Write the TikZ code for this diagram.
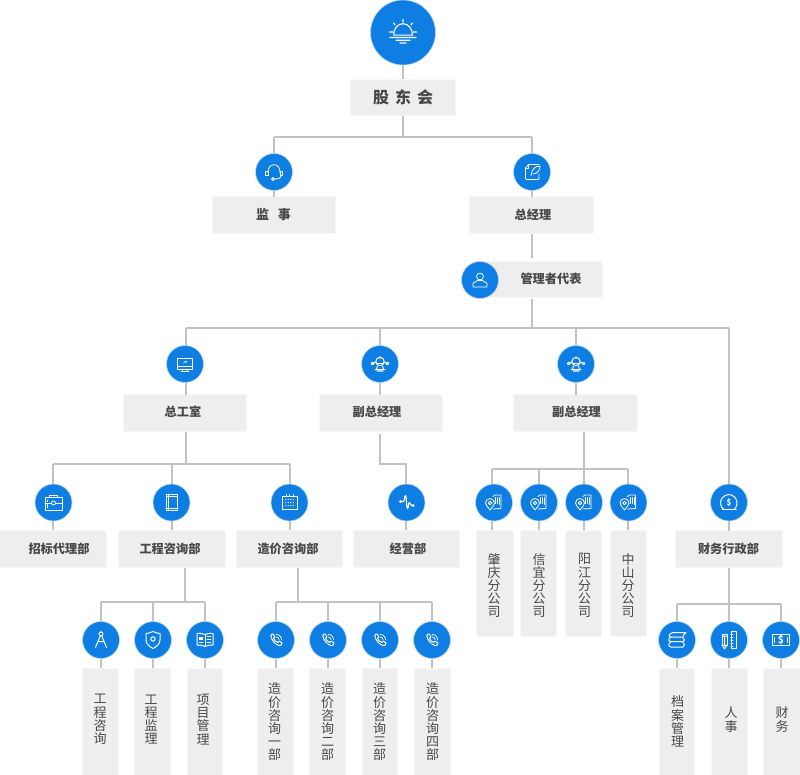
\documentclass[tikz,border=0pt]{standalone}
\usepackage{fontspec}
\setmainfont{Noto Sans CJK SC}
\usetikzlibrary{calc}
\definecolor{blu}{HTML}{0F7EE3}
\definecolor{halo}{HTML}{B9D9F5}
\definecolor{wire}{HTML}{C2C2C2}
\definecolor{boxf}{HTML}{EEEEEE}
\definecolor{boxe}{HTML}{F8F8F8}
\definecolor{ink}{HTML}{484848}
\tikzset{
  conn/.style={draw=wire,line width=1.9pt,line join=miter},
  circ/.style={circle,fill=blu,draw=halo,line width=.6pt,minimum size=37pt,inner sep=0pt},
  bigcirc/.style={circ,minimum size=65pt},
  boxn/.style={fill=boxf,draw=boxe,line width=1pt,inner sep=0pt},
  tb/.style={text=ink,inner sep=0pt,font=\fontsize{12.2}{14}\selectfont\bfseries},
  tv/.style={text=ink,inner sep=0pt,align=center,font=\fontsize{13}{13.2}\selectfont},
  ic/.style={draw=white,line width=.8pt,line cap=round,line join=round},
  pics/sun/.style={code={
    \draw[ic,line width=1.1pt] (-9.5,2.7) arc[start angle=180,end angle=360,x radius=9.5,y radius=11.5] -- cycle;
    \draw[ic,line width=1.1pt] (-13,5) -- (13,5) (-7,7.8) -- (7,7.8) (-3,10.5) -- (3,10.5)
      (0,-10.5) -- (0,-13) (8,-7.5) -- (9.5,-9.5) (-8,-7.5) -- (-9.5,-9.5) (10.5,-.5) -- (13.5,-.5) (-10.5,-.5) -- (-13.5,-.5);
  }},
  pics/headset/.style={code={
    \draw[ic] (-6,1) .. controls (-7,-10) and (7,-10) .. (6,1);
    \draw[ic] (-8.5,-1) rectangle (-6,3.5) (6,-1) rectangle (8.5,3.5);
    \draw[ic] (7,3.5) .. controls (7,6.5) and (4,7) .. (0,7);
    \draw[ic] (-1,7) circle (1.5);
  }},
  pics/docfeather/.style={code={
    \draw[ic] (-2,-7.5) -- (7,-7.5) (7,2) -- (7,6.5) arc[start angle=0,end angle=90,radius=1] -- (-5.5,7.5) arc[start angle=90,end angle=180,radius=1] -- (-6.5,-4) -- (-3.5,-7.5) -- (-2,-7.5);
    \draw[ic] (-1,3.5) .. controls (0,-3) and (3,-6) .. (8,-6) .. controls (8,-2) and (6,1.5) .. (1,2) ;
    \draw[ic] (-3.5,-7.5) -- (-3.5,-4) -- (-6.5,-4);
  }},
  pics/userb/.style={code={
    \draw[ic] (0,-3.5) circle (3.4);
    \draw[ic] (-7,7) -- (7,7) -- (7,4) .. controls (7,2) and (3,2) .. (2.5,0.5) -- (-2.5,0.5) .. controls (-3,2) and (-7,2) .. (-7,4) -- cycle;
  }},
  pics/monitor/.style={code={
    \draw[ic] (-7.5,-5.5) rectangle (7.5,5);
    \draw[ic] (-7.5,2.5) -- (7.5,2.5) (-2,5) -- (-2.5,7.5) (2,5) -- (2.5,7.5) (-4,7.5) -- (4,7.5);
    \draw[ic,line width=.6pt] (-1.5,-1) -- (.5,-3) (.5,-1) -- (2,-3);
  }},
  pics/robot/.style={code={
    \draw[ic,line width=1pt] (0,-2.5) circle (4.2);
    \draw[ic,line width=1pt] (-3.5,-1) -- (3.5,-1);
    \draw[ic,line width=1pt] (-2.5,2) -- (-3.5,5) (2.5,2) -- (3.5,5) (-5,5.5) -- (5,5.5) (-3,7) -- (3,7);
    \draw[ic,line width=1pt] (-4,-2) -- (-6.5,-.5) (4,-2) -- (6.5,-.5);
    \draw[ic,line width=1pt] (-7.5,-.5) circle (1.3) (7.5,-.5) circle (1.3);
    \fill[white] (0,-6.5) circle (1.2);
  }},
  pics/brief/.style={code={
    \draw[ic] (-8.5,-5) rectangle (8.5,7.5);
    \draw[ic] (-4,-5) -- (-4,-7.5) -- (4,-7.5) -- (4,-5);
    \draw[ic] (-8.5,0.5) -- (-2,0.5) (2,0.5) -- (8.5,0.5) (-6,-2.5) -- (-6,-.8) (-6,2) -- (-6,5.5);
    \draw[ic] (0,.5) circle (2);
  }},
  pics/phonerect/.style={code={
    \draw[ic] (-5.5,-8.5) rectangle (5.5,8);
    \draw[ic] (-3.5,-8.5) -- (-3.5,8) (-5.5,-6) -- (5.5,-6) (-5.5,5.5) -- (5.5,5.5);
  }},
  pics/calendar/.style={code={
    \draw[ic] (-7.5,-6.5) rectangle (7.5,7);
    \draw[ic] (-3.5,-8) -- (-3.5,-6) (0,-8) -- (0,-6) (3.5,-8) -- (3.5,-6);
    \foreach \u in {-4,-1.3,1.3,4}{\foreach \v in {-3,0,3}{\fill[white] (\u,\v) circle (.7);}}
  }},
  pics/pulse/.style={code={
    \draw[ic,line width=1.1pt] (-7,-1) -- (-3,-1) .. controls (-2,-1) and (-2,-7) .. (-1,-7) .. controls (0,-7) and (0,6) .. (1,6) .. controls (2,6) and (2,-1) .. (3,0) .. controls (4,1) and (4,3) .. (5,3) -- (7,3);
    \fill[white] (-6,-1) circle (1.5) (6.5,3) circle (1.5);
  }},
  pics/buildpin/.style={code={
    \draw[ic] (-1,-6) -- (1,-7.5) -- (7,-7.5) -- (7,6) -- (-1,6.5);
    \draw[ic] (1.5,-5) -- (1.5,1) (3.5,-5) -- (3.5,1) (5.5,-5) -- (5.5,2);
    \draw[ic,fill=blu] (-4,7.5) .. controls (-6,4.5) and (-8.5,3) .. (-8.5,0.5) arc[start angle=180,end angle=360,radius=4.5] .. controls (.5,3) and (-2,4.5) .. (-4,7.5) -- cycle;
    \draw[ic] (-4,.5) circle (1.8);
  }},
  pics/coin/.style={code={
    \draw[ic,line width=1pt] (-5.5,6.8) arc[start angle=130,end angle=410,radius=8.3];
    \draw[ic,line width=1pt] (-7,7) -- (7,7);
    \node[text=white,inner sep=0pt,font=\fontsize{8}{8}\selectfont\bfseries] (dollar) at (0,0.5) {\$};
  }},
  pics/compass/.style={code={
    \draw[ic,line width=1pt] (0,-6) circle (2);
    \draw[ic,line width=1pt] (-.8,-4) -- (-5.5,7.5) (.8,-4) -- (5.5,7.5) (-3,1.5) -- (3,1.5) (0,-8) -- (0,-9);
  }},
  pics/shield/.style={code={
    \draw[ic,line width=1pt] (0,-8.5) .. controls (3,-7) and (6,-6.5) .. (7,-6.5) -- (7,0) .. controls (7,4) and (3,7) .. (0,8.5) .. controls (-3,7) and (-7,4) .. (-7,0) -- (-7,-6.5) .. controls (-6,-6.5) and (-3,-7) .. (0,-8.5) -- cycle;
    \draw[ic,line width=1pt] (0,-1) circle (2.2);
  }},
  pics/bookb/.style={code={
    \draw[ic,line width=1pt] (0,-5.5) .. controls (-3,-7) and (-5,-6.5) .. (-8,-6.5) -- (-8,5) .. controls (-5,5) and (-3,5) .. (0,6.5) .. controls (3,5) and (5,5) .. (8,5) -- (8,-6.5) .. controls (5,-6.5) and (3,-7) .. (0,-5.5) -- cycle;
    \draw[ic,line width=1pt] (0,-5.5) -- (0,6.5);
    \fill[white] (-6,-3) rectangle (-2.5,0);
    \draw[ic] (-6,2.5) -- (-2,2.5) (2,-3.5) -- (6,-3.5) (2,-.5) -- (6,-.5) (2,2.5) -- (6,2.5);
  }},
  pics/handset/.style={code={
    \begin{scope}[scale=.8]
    \draw[ic,line width=1pt] (-6.5,-5) .. controls (-7,-7) and (-5,-7.5) .. (-3.5,-7.5) -- (-1.5,-4) -- (-3,-2) .. controls (-2,0) and (0,2.5) .. (2,3) -- (4,1.5) -- (7.5,3.5) .. controls (7.5,6) and (6,7.5) .. (4,7) .. controls (-1,5.5) and (-5,1) .. (-6.5,-5) -- cycle;
    \draw[ic,line width=.7pt] (0,-7) .. controls (4,-7) and (7,-4) .. (7,0) (0,-4) .. controls (2,-4) and (4,-2) .. (4,0);
    \end{scope}
  }},
  pics/stackb/.style={code={
    \draw[ic,line width=1pt] (-8,-4) .. controls (-8,-6) and (-6,-6.5) .. (-4,-7.5) -- (9,-7.5) .. controls (7,-6) and (6,-4) .. (6,-3) -- (-6,-3) .. controls (-8,-3) and (-8,-4) .. (-8,-4) -- cycle;
    \draw[ic,line width=1pt] (6,-2) .. controls (8,-1) and (8,1) .. (6,1.5) -- (-6,1.5) .. controls (-9,1.5) and (-9,-2) .. (-6,-2.5);
    \draw[ic,line width=1pt] (6,2.5) .. controls (8,3) and (8,6) .. (6,7) -- (-6,7) .. controls (-9,7) and (-9,3) .. (-6,2);
  }},
  pics/penruler/.style={code={
    \draw[ic,line width=1pt] (-7,-6) rectangle (-2,5) ;
    \draw[ic,line width=1pt] (-7,5) -- (-4.5,9) -- (-2,5) (-7,-4) -- (-2,-4) (-4.5,-4) -- (-4.5,5);
    \draw[ic,line width=1pt] (2,-9) rectangle (7,8);
    \draw[ic,line width=.8pt] (2,-6) -- (4,-6) (2,-3) -- (4,-3) (2,0) -- (4,0) (2,3) -- (4,3) (2,6) -- (4,6);
  }},
  pics/cash/.style={code={
    \draw[ic,line width=1pt] (-8.5,-5.5) rectangle (8.5,5.5);
    \draw[ic,line width=1pt] (-6.5,-2.5) -- (-6.5,2.5) (6.5,-2.5) -- (6.5,2.5);
    \node[text=white,inner sep=0pt,font=\fontsize{10}{10}\selectfont\bfseries] (dollarb) at (0,0) {\$};
  }},
}
\newcommand{\boxt}[5]{\node[boxn,minimum width=#4pt-#2pt+1pt,minimum height=#5pt-#3pt+1pt] (#1) at ({(#2+#4)/2},{(#3+#5)/2}) {};}
\newcommand{\circn}[4]{\node[circ] (#1) at (#2,#3) {}; \pic at (#1) {#4};}
\begin{document}
\begin{tikzpicture}[x=1pt,y=-1pt]
\useasboundingbox (0,0) rectangle (800,775);
\boxt{bGD}{351}{80}{455}{115}
\boxt{bJS}{213}{197}{335}{233}
\boxt{bZJ}{470}{197}{593}{233}
\boxt{bGL}{482}{262}{602}{297}
\boxt{bGS}{124}{395}{246}{431}
\boxt{bFA}{320}{395}{442}{431}
\boxt{bFB}{514}{395}{637}{431}
\boxt{bZB}{0}{531}{106}{567}
\boxt{bGC}{119}{531}{225}{567}
\boxt{bZX}{237}{531}{342}{567}
\boxt{bJY}{354}{531}{459}{567}
\boxt{bCW}{676}{531}{782}{567}
\boxt{bS1}{477}{531}{513}{636}
\boxt{bS2}{521}{531}{556}{636}
\boxt{bS3}{566}{531}{601}{636}
\boxt{bS4}{611}{531}{646}{636}
\boxt{bA1}{83}{669}{118}{775}
\boxt{bA2}{135}{669}{170}{775}
\boxt{bA3}{188}{669}{222}{775}
\boxt{bB1}{258}{669}{293}{775}
\boxt{bB2}{310}{669}{345}{775}
\boxt{bB3}{363}{669}{397}{775}
\boxt{bB4}{415}{669}{450}{775}
\boxt{bC1}{660}{669}{694}{775}
\boxt{bC2}{712}{669}{747}{775}
\boxt{bC3}{764}{669}{800}{775}
\coordinate (jTop) at (403,137);
\coordinate (jTopL) at (274,137);
\coordinate (jTopR) at (532,137);
\coordinate (jM) at (532,328);
\coordinate (jML) at (186,328);
\coordinate (jMA) at (380,328);
\coordinate (jMB) at (576,328);
\coordinate (jMR) at (729,328);
\coordinate (jG) at (186,464);
\coordinate (jG1) at (53,464);
\coordinate (jG2) at (172,464);
\coordinate (jG3) at (290,464);
\coordinate (jAstart) at (380,434);
\coordinate (jA1) at (380,464);
\coordinate (jA2) at (406,464);
\coordinate (jS) at (584,469);
\coordinate (jS1) at (492,469);
\coordinate (jS2) at (539,469);
\coordinate (jS4) at (628,469);
\coordinate (jGA) at (185,602);
\coordinate (jA1a) at (101,602);
\coordinate (jA2a) at (153,602);
\coordinate (jA3a) at (205,602);
\coordinate (jZ) at (298,602);
\coordinate (jZ1) at (276,602);
\coordinate (jZ2) at (328,602);
\coordinate (jZ3) at (380,602);
\coordinate (jZ4) at (432,602);
\coordinate (jC) at (729,604);
\coordinate (jC1) at (677,604);
\coordinate (jC3) at (781,604);
\draw[conn] (403,60) -- (bGD.north);
\draw[conn] (bGD.south) -- (jTop);
\draw[conn] (jTopL) -- (jTopR);
\draw[conn] (jTopL) -- (274,197);
\draw[conn] (jTopR) -- (532,197);
\draw[conn] (532,234.5) -- (532,258);
\draw[conn] (532,299) -- (jM);
\draw[conn] (jML) -- (jMR);
\draw[conn] (jML) -- (186,395);
\draw[conn] (jMA) -- (380,395);
\draw[conn] (jMB) -- (576,395);
\draw[conn] (jMR) -- (729,531);
\draw[conn] (jG |- bGS.south) -- (jG);
\draw[conn] (jG1) -- (jG3);
\draw[conn] (jG1) -- (jG1 |- bZB.north);
\draw[conn] (jG2) -- (jG2 |- bGC.north);
\draw[conn] (jG3) -- (jG3 |- bZX.north);
\draw[conn] (jAstart) -- (jA1) -- (jA2) -- (jA2 |- bJY.north);
\draw[conn] (jS |- bFB.south) -- (jS |- bS3.north);
\draw[conn] (jS1) -- (jS4);
\draw[conn] (jS1) -- (jS1 |- bS1.north);
\draw[conn] (jS2) -- (jS2 |- bS2.north);
\draw[conn] (jS4) -- (jS4 |- bS4.north);
\draw[conn] (jGA |- bGC.south) -- (jGA);
\draw[conn] (jA1a) -- (jA3a);
\draw[conn] (jA1a) -- (jA1a |- bA1.north);
\draw[conn] (jA2a) -- (jA2a |- bA2.north);
\draw[conn] (jA3a) -- (jA3a |- bA3.north);
\draw[conn] (jZ |- bZX.south) -- (jZ);
\draw[conn] (jZ1) -- (jZ4);
\draw[conn] (jZ1) -- (jZ1 |- bB1.north);
\draw[conn] (jZ2) -- (jZ2 |- bB2.north);
\draw[conn] (jZ3) -- (jZ3 |- bB3.north);
\draw[conn] (jZ4) -- (jZ4 |- bB4.north);
\draw[conn] (bCW.south) -- (jC);
\draw[conn] (jC1) -- (jC3);
\draw[conn] (jC1) -- (jC1 |- bC1.north);
\draw[conn] (jC) -- (jC |- bC2.north);
\draw[conn] (jC3) -- (jC3 |- bC3.north);
\node[bigcirc] (cTop) at (403,32.5) {}; \pic at (cTop) {sun};
\circn{cJS}{274}{172}{headset}
\circn{cZJ}{532}{172}{docfeather}
\circn{cGL}{480}{280}{userb}
\circn{cGS}{185}{364}{monitor}
\circn{cFA}{380}{364}{robot}
\circn{cFB}{576}{364}{robot}
\circn{cZB}{53.5}{502.5}{brief}
\circn{cGC}{171.5}{502.5}{phonerect}
\circn{cZX}{289.5}{502.5}{calendar}
\circn{cJY}{406.5}{502.5}{pulse}
\circn{cS1}{494}{502.5}{buildpin}
\circn{cS2}{539}{502.5}{buildpin}
\circn{cS3}{584}{502.5}{buildpin}
\circn{cS4}{628.5}{502.5}{buildpin}
\circn{cCW}{729}{502.5}{coin}
\circn{cA1}{101}{640}{compass}
\circn{cA2}{153}{640}{shield}
\circn{cA3}{205}{640}{bookb}
\circn{cB1}{276}{640}{handset}
\circn{cB2}{328}{640}{handset}
\circn{cB3}{380}{640}{handset}
\circn{cB4}{432}{640}{handset}
\circn{cC1}{677}{640}{stackb}
\circn{cC2}{729}{640}{penruler}
\circn{cC3}{781}{640}{cash}
\node[tb,font=\fontsize{16}{18}\selectfont\bfseries] (tGD) at (403,97) {股\hspace{6pt}东\hspace{6pt}会};
\node[tb,font=\fontsize{13}{15}\selectfont\bfseries] (tJS) at (273.5,214.5) {监\hspace{9pt}事};
\node[tb] (tZJ) at (533,214.5) {总经理};
\node[tb] (tGL) at (551,279) {管理者代表};
\node[tb] (tGS) at (183,412) {总工室};
\node[tb] (tFA) at (377,412) {副总经理};
\node[tb] (tFB) at (576.5,412) {副总经理};
\node[tb] (tZB) at (59,548.5) {招标代理部};
\node[tb] (tGC) at (170,548.5) {工程咨询部};
\node[tb] (tZX) at (288,548.5) {造价咨询部};
\node[tb] (tJY) at (408,548.5) {经营部};
\node[tb] (tCW) at (728.5,548.5) {财务行政部};
\node[tv] (tS1) at (494,585.5) {肇\\庆\\分\\公\\司};
\node[tv] (tS2) at (539,585.5) {信\\宜\\分\\公\\司};
\node[tv] (tS3) at (584.5,585.5) {阳\\江\\分\\公\\司};
\node[tv] (tS4) at (628,585.5) {中\\山\\分\\公\\司};
\node[tv] (tA1) at (100,719.5) {工\\程\\咨\\询};
\node[tv] (tA2) at (151,719.5) {工\\程\\监\\理};
\node[tv] (tA3) at (203,719.5) {项\\目\\管\\理};
\node[tv] (tB1) at (274.5,722) {造\\价\\咨\\询\\一\\部};
\node[tv] (tB2) at (327.5,722) {造\\价\\咨\\询\\二\\部};
\node[tv] (tB3) at (379.5,722) {造\\价\\咨\\询\\三\\部};
\node[tv] (tB4) at (432.5,722) {造\\价\\咨\\询\\四\\部};
\node[tv] (tC1) at (677.5,721.5) {档\\案\\管\\理};
\node[tv] (tC2) at (731,719.5) {人\\事};
\node[tv] (tC3) at (782,719.5) {财\\务};
\end{tikzpicture}
\end{document}
